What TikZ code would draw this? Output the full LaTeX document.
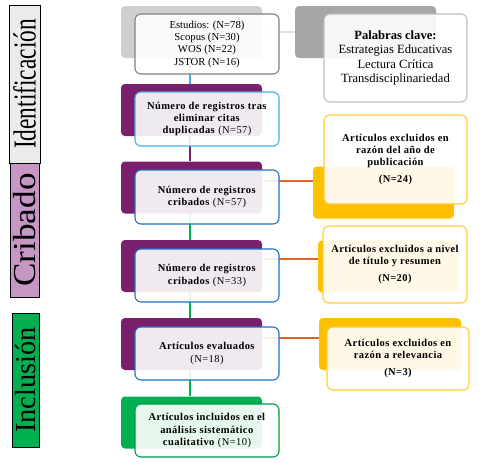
\documentclass[tikz,border=0pt]{standalone}
\usepackage{fontspec}
\setmainfont{Liberation Serif}
\usepackage{graphicx}
\definecolor{prismapurple}{HTML}{7A1F6C}
\definecolor{prismagreen}{HTML}{00B050}
\definecolor{prismagold}{HTML}{FFC000}
\definecolor{prismaorange}{HTML}{E0642A}
\definecolor{prismablue}{HTML}{1E73BE}
\definecolor{prismasky}{HTML}{45AEE2}
\definecolor{prismaorchid}{HTML}{C896C4}
\newcommand{\stepfont}{\fontsize{10.5}{12.3}\selectfont\addfontfeature{LetterSpace=4}}

\begin{document}
\begin{tikzpicture}[x=1pt, y=-1pt,
    backbox/.style={rectangle, rounded corners=4pt, inner sep=0pt,
        minimum width=141pt, minimum height=52pt},
    frontbox/.style={rectangle, rounded corners=6pt, line width=1.1pt,
        fill=white, fill opacity=0.9, text opacity=1,
        minimum width=144pt, minimum height=54pt, inner sep=2pt, align=center,
        font=\stepfont},
    stagelabel/.style={rectangle, draw=black, line width=1pt, rotate=90, inner sep=0pt},
    link/.style={line width=1.6pt}]
    %
    \useasboundingbox (0,0) rectangle (488,464);
    %
    % stage labels
    \node[stagelabel, fill=black!8, minimum width=158pt, minimum height=31pt] (idlab) at (24.5,84)
        {\scalebox{0.73}[1]{\fontsize{32}{32}\selectfont Identificación}};
    \node[stagelabel, fill=prismaorchid, minimum width=134pt, minimum height=29pt] (crlab) at (24.5,230)
        {\scalebox{1.1}[1]{\fontsize{32}{32}\selectfont Cribado}};
    \node[stagelabel, fill=prismagreen, minimum width=134pt, minimum height=27pt] (inlab) at (25.5,380)
        {\scalebox{0.98}[1]{\fontsize{29}{29}\selectfont Inclusión}};
    %
    % back shapes
    \node[backbox, fill=black!19] (b1) at (191.5,32) {};
    \node[backbox, fill=prismapurple] (b2) at (191.5,110) {};
    \node[backbox, fill=prismapurple] (b3) at (191.5,187.5) {};
    \node[backbox, fill=prismapurple] (b4) at (191.5,266) {};
    \node[backbox, fill=prismapurple] (b5) at (191.5,344) {};
    \node[backbox, fill=prismagreen] (b6) at (191.5,422.5) {};
    \node[backbox, fill=black!35] (pb) at (365.5,32) {};
    \node[backbox, fill=prismagold] (eb1) at (383.5,192.5) {};
    \node[backbox, fill=prismagold, minimum width=140pt] (eb2) at (388,266.5) {};
    \node[backbox, fill=prismagold, minimum width=142pt] (eb3) at (390,344) {};
    %
    % connectors
    \draw[link, draw=prismasky] ([xshift=-1.5pt]b1.south) -- ([xshift=-1.5pt]b2.north);
    \draw[link, draw=prismapurple] ([xshift=-1.5pt]b2.south) -- ([xshift=-1.5pt]b3.north);
    \draw[link, draw=prismagreen] ([xshift=-1.5pt]b3.south) -- ([xshift=-1.5pt]b4.north);
    \draw[link, draw=prismagreen] ([xshift=-1.5pt]b4.south) -- ([xshift=-1.5pt]b5.north);
    \draw[link, draw=prismagreen] ([xshift=-1.5pt]b5.south) -- ([xshift=-1.5pt]b6.north);
    \draw[link, draw=black!12] (b1.east) -- (pb.west);
    \coordinate (o3) at ([yshift=6.5pt]b3.east);
    \coordinate (o4) at ([yshift=7pt]b4.east);
    \coordinate (o5) at ([yshift=6pt]b5.east);
    \draw[link, draw=prismaorange, line width=1.8pt] (o3) -- (o3 -| eb1.west);
    \draw[link, draw=prismaorange, line width=1.8pt] (o4) -- (o4 -| eb2.west);
    \draw[link, draw=prismaorange, line width=1.8pt] (o5) -- (o5 -| eb3.west);
    %
    % front boxes
    \node[frontbox, draw=black!50, minimum height=60pt, font=\fontsize{10.7}{12.3}\selectfont] (f1) at (207,44)
        {Estudios: (N=78)\\ Scopus (N=30)\\ WOS (N=22)\\ JSTOR (N=16)};
    \node[frontbox, draw=prismasky] (f2) at (207,119)
        {\textbf{Número de registros tras}\\ \textbf{eliminar citas}\\ \textbf{duplicadas} (N=57)};
    \node[frontbox, draw=prismablue] (f3) at (207,197)
        {\textbf{Número de registros}\\ \textbf{cribados} (N=57)};
    \node[frontbox, draw=prismablue, minimum height=53pt] (f4) at (207,275.5)
        {\textbf{Número de registros}\\ \textbf{cribados} (N=33)};
    \node[frontbox, draw=prismablue, minimum height=53pt] (f5) at (207,353.5)
        {\textbf{Artículos evaluados}\\ (N=18)};
    \node[frontbox, draw=prismagreen!85!black, minimum height=53pt] (f6) at (207,430.5)
        {\textbf{Artículos incluidos en el}\\ \textbf{análisis sistemático}\\ \textbf{cualitativo} (N=10)};
    %
    \node[frontbox, draw=black!25, minimum width=143pt, minimum height=88pt,
        font=\fontsize{12.6}{14.3}\selectfont] (pf) at (395.5,58)
        {\textbf{Palabras clave:}\\ Estrategias Educativas\\ Lectura Crítica\\ Transdisciplinariedad};
    \node[frontbox, draw=prismagold!80, minimum width=143pt, minimum height=89pt,
        font=\stepfont\bfseries] (ef1) at (395.5,159.5)
        {Artículos excluidos en\\ razón del año de\\ publicación\\[5pt] (N=24)};
    \node[frontbox, draw=prismagold!80, minimum width=144pt, minimum height=77pt,
        font=\stepfont\bfseries] (ef2) at (395,264.5)
        {Artículos excluidos a nivel\\ de título y resumen\\[5pt] (N=20)};
    \node[frontbox, draw=prismagold!80, minimum width=142pt, minimum height=63pt,
        font=\stepfont\bfseries] (ef3) at (398,358.5)
        {Artículos excluidos en\\ razón a relevancia\\[5pt] (N=3)};
\end{tikzpicture}
\end{document}
